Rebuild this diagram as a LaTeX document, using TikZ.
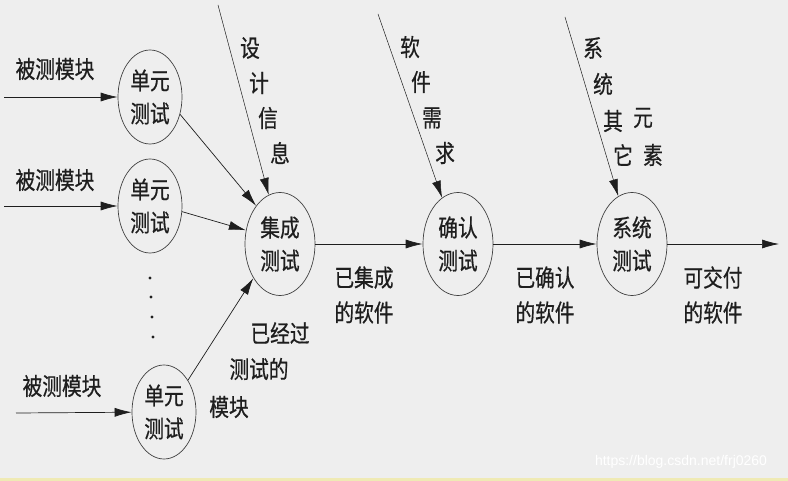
\documentclass[tikz,border=0pt]{standalone}
\usepackage{fontspec}
\newfontfamily\cjk[FakeStretch=0.82,FakeBold=0.6]{Noto Sans CJK SC}
\usetikzlibrary{shapes.geometric,arrows.meta}
\definecolor{bgcol}{HTML}{EEEEEE}
\definecolor{inkcol}{HTML}{1E1E1E}
\definecolor{stripcol}{HTML}{EFEAB4}
\tikzset{
  proc/.style={ellipse,draw=inkcol!85,line width=0.7pt,inner sep=0pt,
    minimum width=70pt,minimum height=103pt,align=center,text=inkcol,
    font=\cjk\fontsize{24pt}{33pt}\selectfont},
  unit/.style={proc,minimum width=64pt,minimum height=94pt},
  flow/.style={draw=inkcol,line width=0.7pt,-{Latex[length=17pt,width=9pt]}},
  feed/.style={draw=inkcol,line width=0.5pt,-{Latex[length=17pt,width=9pt]}},
  lbl/.style={text=inkcol,align=center,inner sep=0pt,
    font=\cjk\fontsize{24pt}{35pt}\selectfont}
}
\begin{document}
\begin{tikzpicture}[x=1pt,y=-1pt]
  \fill[bgcol] (0,0) rectangle (788,481);
  \fill[stripcol] (0,478) rectangle (788,481);
  \useasboundingbox (0,0) rectangle (788,481);

  % unit tests
  \node[unit] (u1) at (150,97)  {单元\\测试};
  \node[unit] (u2) at (150,206) {单元\\测试};
  \node[unit] (u3) at (164,412) {单元\\测试};
  \coordinate (in1) at (4,97);
  \coordinate (in2) at (4,206);
  \coordinate (in3) at (16,413);
  \draw[flow] (in1) -- (u1);
  \draw[flow] (in2) -- (u2);
  \draw[flow] (in3) -- (u3);
  \node[lbl] (m1) at (55,69)  {被测模块};
  \node[lbl] (m2) at (55,180) {被测模块};
  \node[lbl] (m3) at (62,386) {被测模块};
  \foreach \y [count=\i] in {278,297,317,337}
    \fill[inkcol] (149+\i,\y) circle (1.6);

  % main chain
  \node[proc] (it) at (280,244) {集成\\测试};
  \node[proc] (ct) at (458,244) {确认\\测试};
  \node[proc] (st) at (632,244) {系统\\测试};
  \coordinate (out) at (779,244);

  \draw[flow] (u1.-30) -- (it.122);
  \draw[flow] (u2.-10) -- (it.158);
  \draw[flow] (u3.53)  -- (it.-128);
  \draw[flow] (it.east) -- (ct.west);
  \draw[flow] (ct.east) -- (st.west);
  \draw[flow] (st.east) -- (out);

  \node[lbl] (p1) at (280,333) {已经过};
  \node[lbl] (p2) at (259,369) {测试的};
  \node[lbl] (p3) at (229,407) {模块};
  \node[lbl] (r1) at (364,295) {已集成\\的软件};
  \node[lbl] (r2) at (545,295) {已确认\\的软件};
  \node[lbl] (r3) at (713,295) {可交付\\的软件};

  % inputs from above
  \coordinate (sj) at (218,5);
  \coordinate (xq) at (378,14);
  \coordinate (xt) at (565,17);
  \draw[feed] (sj) -- (it.103);
  \draw[feed] (xq) -- (ct.109);
  \draw[feed] (xt) -- (st.106);
  \foreach \c/\x/\y [count=\i] in {设/250/48,计/259/83,信/268/118,息/280/153}
    \node[lbl] (sj\i) at (\x,\y) {\c};
  \foreach \c/\x/\y [count=\i] in {软/410/47,件/421/82,需/432/118,求/445/153}
    \node[lbl] (xq\i) at (\x,\y) {\c};
  \foreach \c/\x/\y [count=\i] in {系/593/48,统/603/84,其/613/121,元/643/118,它/623/155,素/653/155}
    \node[lbl] (xt\i) at (\x,\y) {\c};

  \node[text=white,font=\fontspec{Liberation Sans}\fontsize{14pt}{16pt}\selectfont]
    (wm) at (681,462) {https://blog.csdn.net/frj0260};
\end{tikzpicture}
\end{document}
